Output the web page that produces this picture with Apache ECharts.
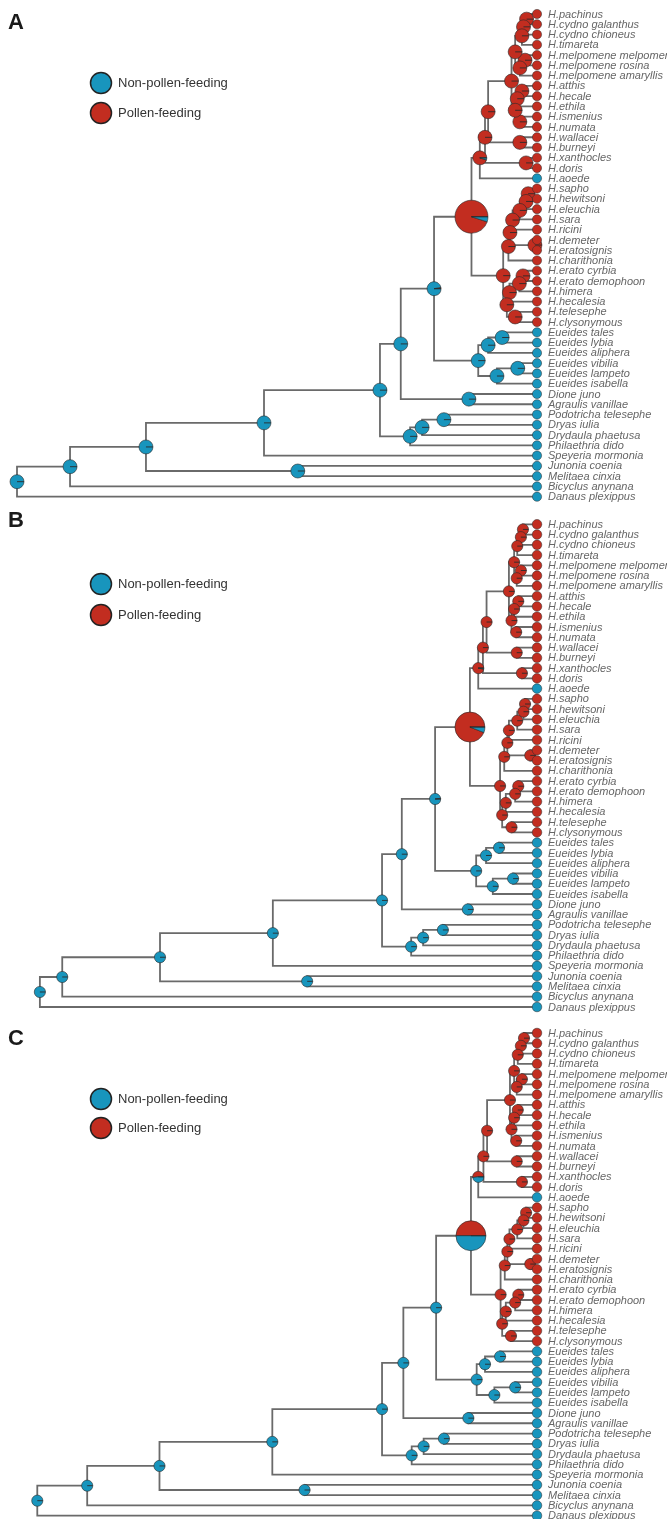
<!DOCTYPE html>
<html>
<head>
<meta charset="utf-8">
<script src="https://cdn.jsdelivr.net/npm/echarts@6/dist/echarts.min.js"></script>
<style>
  html, body { margin: 0; padding: 0; background: #ffffff; }
  #chart { width: 667px; height: 1519px; }
</style>
</head>
<body>
<div id="chart"></div>
<script>
// ---- Taxa (top to bottom) ----
const tipNames = [
  'H.pachinus', 'H.cydno galanthus', 'H.cydno chioneus', 'H.timareta',
  'H.melpomene melpomene', 'H.melpomene rosina', 'H.melpomene amaryllis',
  'H.atthis', 'H.hecale', 'H.ethila', 'H.ismenius', 'H.numata', 'H.wallacei',
  'H.burneyi', 'H.xanthocles', 'H.doris', 'H.aoede', 'H.sapho', 'H.hewitsoni',
  'H.eleuchia', 'H.sara', 'H.ricini', 'H.demeter', 'H.eratosignis',
  'H.charithonia', 'H.erato cyrbia', 'H.erato demophoon', 'H.himera',
  'H.hecalesia', 'H.telesephe', 'H.clysonymous', 'Eueides tales',
  'Eueides lybia', 'Eueides aliphera', 'Eueides vibilia', 'Eueides lampeto',
  'Eueides isabella', 'Dione juno', 'Agraulis vanillae', 'Podotricha telesephe',
  'Dryas iulia', 'Drydaula phaetusa', 'Philaethria dido', 'Speyeria mormonia',
  'Junonia coenia', 'Melitaea cinxia', 'Bicyclus anynana', 'Danaus plexippus'
];

// observed state of each taxon: 1 = pollen-feeding, 0 = non-pollen-feeding
const tipPollen = [
  1,1,1,1,1,1,1,1,1,1,1,1,1,1,1,1, 0,
  1,1,1,1,1,1,1,1,1,1,1,1,1,1,
  0,0,0,0,0,0,0,0,0,0,0,0,0,0,0,0,0
];

// internal nodes (ids 48..94): pairs of child ids (tips 0..47, earlier nodes 48+)
const nodeChildren = [
  [0,1],[48,2],[49,3],[4,5],[51,6],[50,52],[7,8],[54,9],[10,11],[55,56],
  [53,57],[12,13],[58,59],[14,15],[60,61],[62,16],
  [17,18],[64,19],[65,20],[66,21],[22,23],[67,68],[69,24],[25,26],[71,27],
  [72,28],[29,30],[73,74],[70,75],[63,76],
  [31,32],[78,33],[34,35],[80,36],[79,81],[77,82],[37,38],[83,84],
  [39,40],[86,41],[87,42],[85,88],[89,43],[44,45],[90,91],[92,46],[93,47]
];

// node depths (root of tree A = 0, tips = 100)
const depthA = [
  98.0,97.4,97.1,97.7,96.7,95.8,97.1,96.2,96.7,95.8,95.1,96.7,90.6,97.9,90.0,89.0,
  98.3,97.9,96.7,95.3,99.6,94.8,94.5,97.3,96.6,94.7,95.8,94.2,93.5,87.4,
  93.3,90.6,96.3,92.3,88.7,80.2,86.9,73.8,82.1,77.9,75.6,69.8,47.5,54.0,24.8,10.2,0
];
const depthB = [
  97.3,96.9,96.2,96.9,96.1,95.6,96.4,95.6,96.0,95.1,94.6,96.1,90.3,97.1,89.6,88.7,
  97.7,97.4,96.2,94.6,98.7,94.3,93.7,96.4,95.8,94.0,95.1,93.3,92.9,87.1,
  92.7,90.2,95.4,91.5,88.3,80.4,86.7,74.0,81.9,78.1,75.8,70.2,49.2,55.8,27.5,8.7,4.4
];
const depthC = [
  97.5,96.9,96.3,97.1,96.1,95.6,96.3,95.6,96.0,95.1,94.8,96.1,90.4,97.1,89.7,88.7,
  97.9,97.4,96.2,94.7,98.7,94.3,93.8,96.4,95.8,94.0,95.0,93.3,93.0,87.3,
  92.9,90.0,95.8,91.8,88.4,80.6,86.8,74.3,82.1,78.2,75.9,70.2,49.1,55.3,27.4,13.5,3.9
];

// probability of the pollen-feeding state at each internal node
const pollenA = [
  1,1,1,1,1,1,1,1,1,1,1,1,1,1,1,0.95,
  1,1,1,1,1,1,1,1,1,1,1,1,1,0.95,
  0,0,0,0,0,0.03,0,0,0,0,0,0,0,0,0,0,0
];
const pollenB = [
  1,1,1,1,1,1,1,1,1,1,1,1,1,1,1,0.97,
  1,1,1,1,1,1,1,1,1,1,1,1,1,0.94,
  0,0,0,0,0,0.02,0,0,0,0,0,0,0,0,0,0,0
];
const pollenC = [
  1,1,1,1,1,1,1,1,1,1,1,1,1,1,1,0.52,
  1,1,1,1,1,1,1,1,1,1,1,1,1,0.5,
  0,0,0,0,0,0,0,0,0,0,0,0,0,0,0,0,0
];

const panelLetters = ['A', 'B', 'C'];
const stateNames = ['Non-pollen-feeding', 'Pollen-feeding'];

// ---- styling ----
const BLUE = '#1895bd';
const RED = '#c22d20';
const EDGE = '#2a2a2a';
const BRANCH = '#6a6a6a';
const TIP_DEPTH = 100;
const ROOT_NODE = 29;            // Heliconius crown node (index within nodeChildren)
const panels = [
  { depth: depthA, pollen: pollenA, top: 14,    letterTop: 12,   rTip: 4.6, rNode: 7.0, rRoot: 16.5, legendY: 83,   legendGap: 30 },
  { depth: depthB, pollen: pollenB, top: 524.3, letterTop: 510,  rTip: 4.8, rNode: 5.6, rRoot: 15,   legendY: 584,  legendGap: 31 },
  { depth: depthC, pollen: pollenC, top: 1033,  letterTop: 1028, rTip: 4.8, rNode: 5.6, rRoot: 15,   legendY: 1099, legendGap: 29 }
];
const NT = tipNames.length;
const ROW_H = 10.27;

// vertical position of every node: tips by order, internal nodes at the mean of their children
const yPos = tipNames.map((_, i) => i);
nodeChildren.forEach(([a, b]) => yPos.push((yPos[a] + yPos[b]) / 2));

function xOf(depth, id) { return id < NT ? TIP_DEPTH : depth[id - NT]; }

const chart = echarts.init(document.getElementById('chart'), null, { renderer: 'canvas' });

const grids = [], xAxes = [], yAxes = [], series = [], graphics = [];

panels.forEach((pn, k) => {
  grids.push({ left: 17, width: 520, top: pn.top, height: (NT - 1) * ROW_H, containLabel: false });
  xAxes.push({ type: 'value', gridIndex: k, min: 0, max: TIP_DEPTH, show: false });
  yAxes.push({ type: 'value', gridIndex: k, min: 0, max: NT - 1, inverse: true, show: false });

  // branches: one bracket per internal node
  const branchData = nodeChildren.map(([a, b], i) => [
    pn.depth[i], yPos[a], yPos[b], xOf(pn.depth, a), xOf(pn.depth, b)
  ]);
  series.push({
    type: 'custom', xAxisIndex: k, yAxisIndex: k, z: 1, silent: true,
    data: branchData,
    renderItem: (params, api) => {
      const n1 = api.coord([api.value(3), api.value(1)]);
      const m1 = api.coord([api.value(0), api.value(1)]);
      const m2 = api.coord([api.value(0), api.value(2)]);
      const n2 = api.coord([api.value(4), api.value(2)]);
      return {
        type: 'polyline',
        shape: { points: [n1, m1, m2, n2] },
        style: { stroke: BRANCH, lineWidth: 1.8, fill: null, lineJoin: 'miter' }
      };
    }
  });

  // ancestral-state pies at internal nodes
  const pieData = nodeChildren.map((_, i) => [pn.depth[i], yPos[NT + i], pn.pollen[i], i === ROOT_NODE ? 1 : 0]);
  series.push({
    type: 'custom', xAxisIndex: k, yAxisIndex: k, z: 3, silent: true,
    data: pieData,
    renderItem: (params, api) => {
      const c = api.coord([api.value(0), api.value(1)]);
      const p = api.value(2);
      const r = api.value(3) ? pn.rRoot : pn.rNode;
      const kids = [];
      const full = Math.PI * 2;
      if (p > 0) kids.push({
        type: 'sector',
        shape: { cx: c[0], cy: c[1], r: r, r0: 0, startAngle: 0, endAngle: -full * p, clockwise: false },
        style: { fill: RED, stroke: EDGE, lineWidth: 0.6 }
      });
      if (p < 1) kids.push({
        type: 'sector',
        shape: { cx: c[0], cy: c[1], r: r, r0: 0, startAngle: -full * p, endAngle: -full, clockwise: false },
        style: { fill: BLUE, stroke: EDGE, lineWidth: 0.6 }
      });
      kids.push({ type: 'line', shape: { x1: c[0], y1: c[1], x2: c[0] + r, y2: c[1] },
                  style: { stroke: EDGE, lineWidth: 0.9 } });
      return { type: 'group', children: kids };
    }
  });

  // tips: state circle and taxon name
  const tipData = tipNames.map((_, i) => [TIP_DEPTH, yPos[i], tipPollen[i]]);
  series.push({
    type: 'custom', xAxisIndex: k, yAxisIndex: k, z: 4, silent: true,
    data: tipData,
    renderItem: (params, api) => {
      const c = api.coord([api.value(0), api.value(1)]);
      return {
        type: 'group',
        children: [
          { type: 'circle', shape: { cx: c[0], cy: c[1], r: pn.rTip },
            style: { fill: api.value(2) ? RED : BLUE, stroke: EDGE, lineWidth: 0.5 } },
          { type: 'text', x: c[0] + 11, y: c[1] + 0.5,
            style: { text: tipNames[params.dataIndex], fill: '#666666',
                     font: 'italic 11px "Liberation Sans", Arial, sans-serif',
                     verticalAlign: 'middle', align: 'left' } }
        ]
      };
    }
  });

  // panel letter
  graphics.push({
    type: 'text', left: 8, top: pn.letterTop,
    style: { text: panelLetters[k], font: 'bold 22px "Liberation Sans", Arial, sans-serif', fill: '#1a1a1a' }
  });
  // legend
  [BLUE, RED].forEach((col, j) => {
    const cy = pn.legendY + j * pn.legendGap;
    graphics.push({
      type: 'circle', shape: { cx: 101, cy: cy, r: 10.5 },
      style: { fill: col, stroke: '#222222', lineWidth: 1.5 }
    });
    graphics.push({
      type: 'text', x: 118, y: cy,
      style: { text: stateNames[j], fill: '#333333',
               font: '13px "Liberation Sans", Arial, sans-serif', verticalAlign: 'middle' }
    });
  });
});

chart.setOption({
  backgroundColor: '#ffffff',
  animation: false,
  grid: grids,
  xAxis: xAxes,
  yAxis: yAxes,
  graphic: graphics,
  series: series
});
</script>
</body>
</html>
